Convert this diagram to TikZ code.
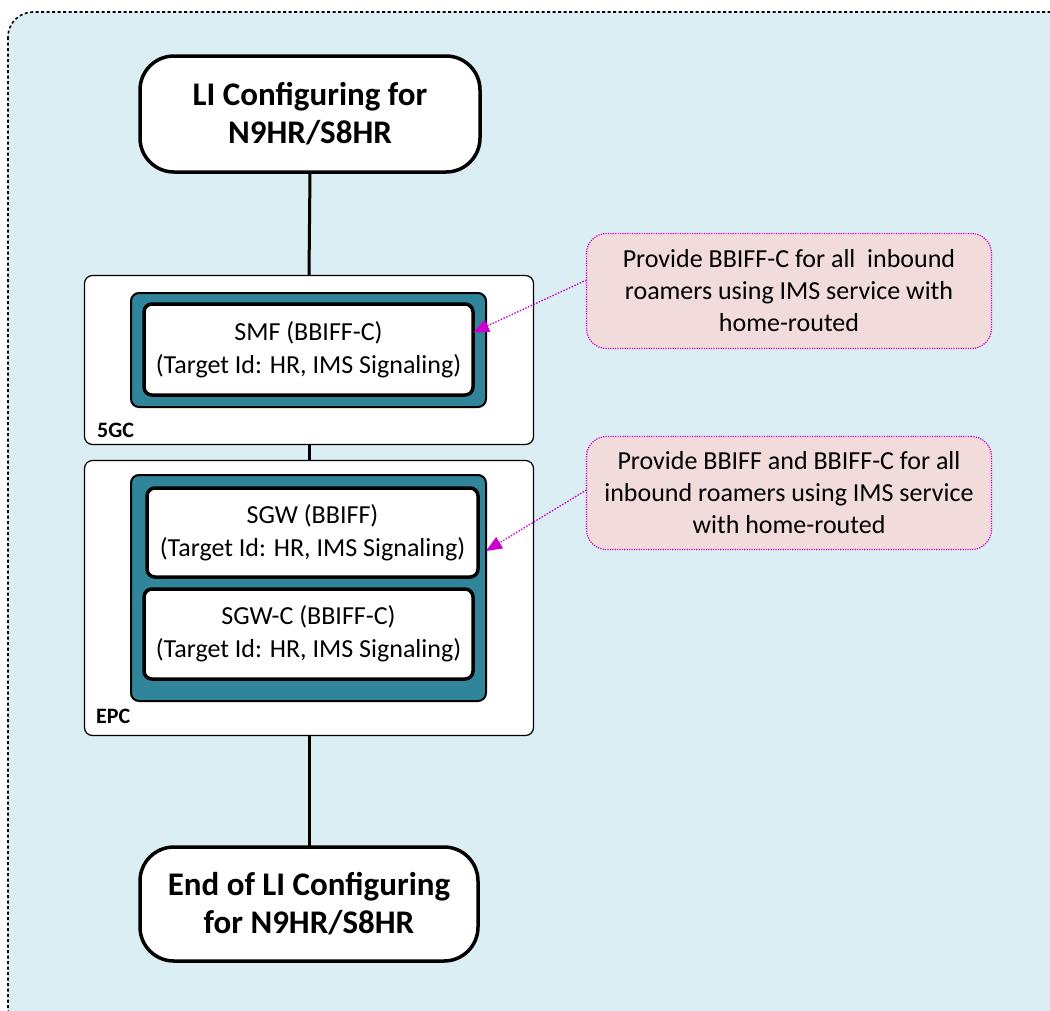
\documentclass[tikz,border=0pt]{standalone}
\usepackage{fontspec}
\setmainfont{Carlito}
\usetikzlibrary{arrows.meta}
\definecolor{bgblue}{RGB}{219,238,243}
\definecolor{tealfill}{RGB}{49,133,155}
\definecolor{pinkfill}{RGB}{242,220,219}
\definecolor{mag}{RGB}{204,0,204}
\begin{document}
\begin{tikzpicture}[x=1pt,y=-1pt,
 term/.style={draw=black, line width=3.5pt, fill=white, rounded corners=34pt, align=center,
   font=\fontsize{33}{38}\selectfont\bfseries, inner sep=0pt, outer sep=0pt},
 group/.style={draw=black, line width=1.2pt, fill=white, rounded corners=8pt, inner sep=0pt, outer sep=0pt},
 tealbox/.style={draw=black, line width=2pt, fill=tealfill, rounded corners=8pt, inner sep=0pt, outer sep=0pt},
 nf/.style={draw=black, line width=3.5pt, fill=white, rounded corners=8pt, align=center,
   font=\fontsize{26}{33}\selectfont, inner sep=0pt, outer sep=0pt},
 callout/.style={draw=mag, dash pattern=on 1.2pt off 1.2pt, line width=1.2pt, fill=pinkfill, rounded corners=20pt,
   align=center, font=\fontsize{26}{32}\selectfont, inner sep=0pt, outer sep=0pt},
 grplabel/.style={font=\fontsize{22}{22}\selectfont\bfseries, anchor=base west, inner sep=0pt},
 conn/.style={line width=3pt},
 note/.style={draw=mag, dash pattern=on 1.5pt off 1.5pt, line width=1.3pt, -{Triangle[length=16pt,width=13pt]}}
]
\useasboundingbox (0,0) rectangle (1050,1010);
\clip (0,0) rectangle (1050,1010);
\draw[fill=bgblue, line width=1.6pt, dash pattern=on 3pt off 2.5pt, rounded corners=25pt] (8,12) rectangle (1075,1035);

\node[term, minimum width=340, minimum height=116] (top) at (310,114) {LI Configuring for\\N9HR/S8HR};

\node[group, minimum width=449, minimum height=169] (g5) at (309,360) {};
\node[tealbox, minimum width=355, minimum height=114] (t5) at (308.5,350) {};
\node[nf, minimum width=329, minimum height=91] (smf) at (308.5,349.5) {SMF (BBIFF-C)\\(Target Id: HR, IMS Signaling)};
\node[grplabel] (l5) at (97,437) {5GC};

\node[group, minimum width=449, minimum height=275] (epc) at (309,598) {};
\node[tealbox, minimum width=355, minimum height=226] (t4) at (308.5,588) {};
\node[nf, minimum width=331, minimum height=89] (sgw) at (312.5,532.5) {SGW (BBIFF)\\(Target Id: HR, IMS Signaling)};
\node[nf, minimum width=329, minimum height=90] (sgwc) at (308.5,634) {SGW-C (BBIFF-C)\\(Target Id: HR, IMS Signaling)};
\node[grplabel] (l4) at (96,723) {EPC};

\node[term, minimum width=338, minimum height=114] (endn) at (309,904) {End of LI Configuring\\for N9HR/S8HR};

\node[callout, minimum width=405, minimum height=115] (c1) at (789,291) {Provide BBIFF-C for all\ \ inbound\\roamers using IMS service with\\home-routed};
\node[callout, minimum width=405, minimum height=113] (c2) at (789,493) {Provide BBIFF and BBIFF-C for all\\inbound roamers using IMS service\\with home-routed};

\draw[conn] (top.south) -- (g5.north);
\draw[conn] (g5.south) -- (epc.north);
\draw[conn] (epc.south) -- (endn.north);

\draw[note] ([yshift=11pt]c1.west) -- ([yshift=17pt]smf.east);
\draw[note] ([yshift=3pt]c2.west) -- ([yshift=37pt]t4.east);
\end{tikzpicture}
\end{document}
